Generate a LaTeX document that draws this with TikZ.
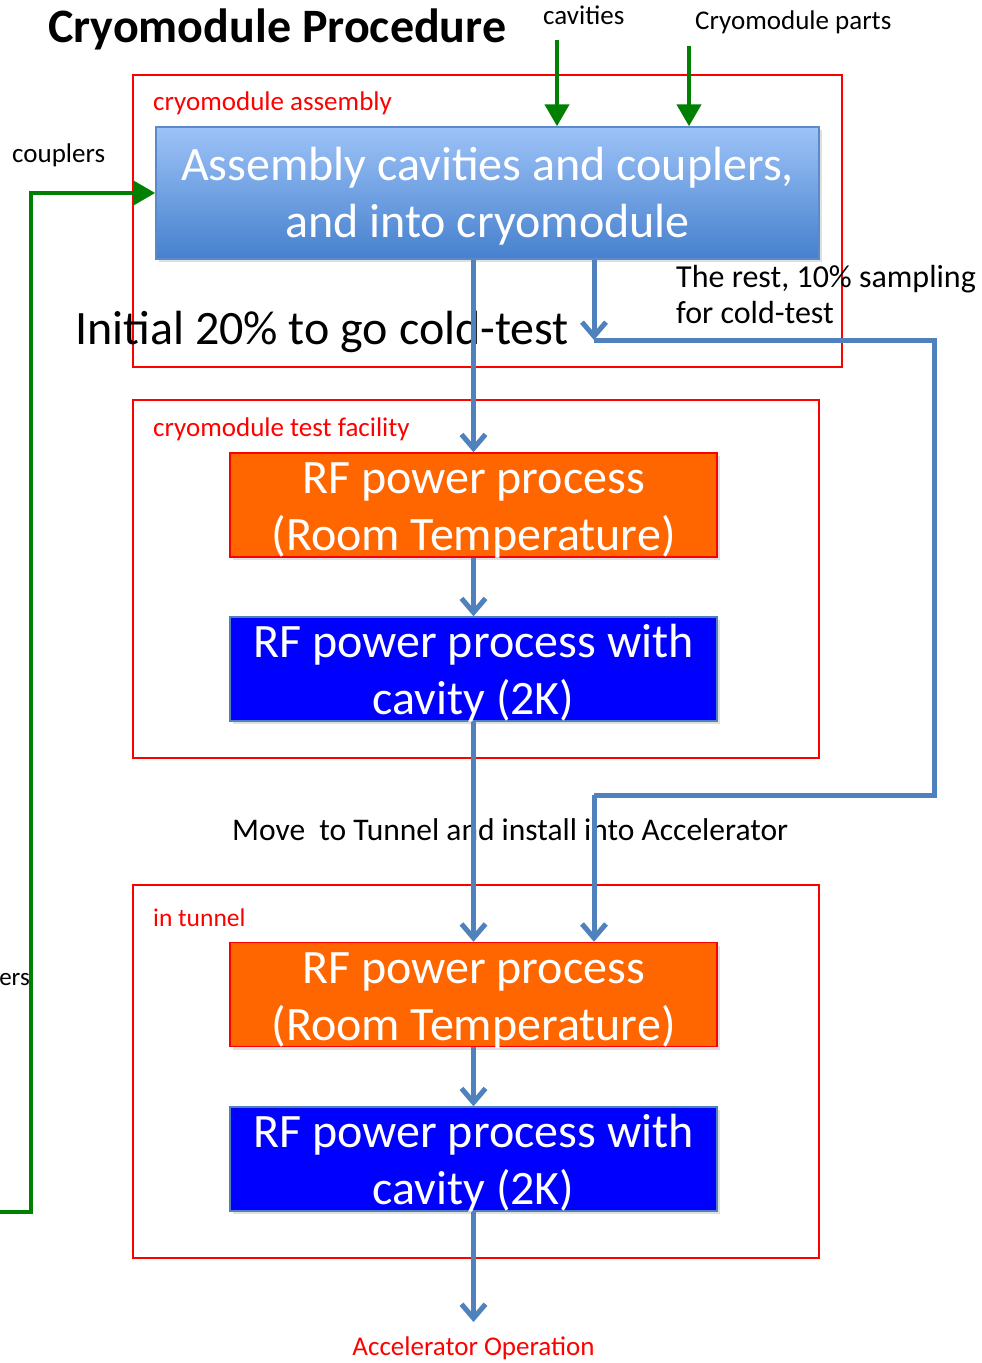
\documentclass[tikz,border=0pt]{standalone}
\usepackage{fontspec}
\setmainfont{Carlito}
\usetikzlibrary{arrows.meta,shadows}
\definecolor{conn}{HTML}{4F81BD}
\definecolor{grn}{HTML}{008000}
\definecolor{orng}{HTML}{FF6600}
\definecolor{bluebox}{HTML}{0000FF}
\definecolor{boxtop}{HTML}{9DC3F7}
\definecolor{boxbot}{HTML}{4680CE}
\definecolor{boxedge}{HTML}{5B8ACB}
\definecolor{redline}{HTML}{FF0000}
\tikzset{
  shd/.style={drop shadow={opacity=0.25,shadow xshift=3pt,shadow yshift=-3pt}},
  group/.style={draw=redline,line width=1.5pt,inner sep=0pt,fill=white},
  bigtext/.style={font=\fontsize{48}{57}\selectfont,text=white,align=center,inner sep=0pt},
  asmbox/.style={bigtext,shd,top color=boxtop,bottom color=boxbot,draw=boxedge,line width=1.5pt,minimum width=663pt,minimum height=132pt,text height=99pt,text depth=10pt},
  orbox/.style={bigtext,shd,fill=orng,draw=redline,line width=1.5pt,minimum width=487pt,minimum height=104pt,text height=97pt,text depth=6pt},
  blbox/.style={bigtext,shd,fill=bluebox,draw=conn,line width=1.5pt,minimum width=487pt,minimum height=104pt,text height=97pt,text depth=6pt},
  grouplabel/.style={font=\fontsize{27}{30}\selectfont,text=redline,inner sep=0pt,anchor=base west},
  smalltext/.style={font=\fontsize{27}{30}\selectfont,inner sep=0pt},
  midtext/.style={font=\fontsize{32}{38}\selectfont,inner sep=0pt},
  bconn/.style={draw=conn,line width=5pt,-{Straight Barb[length=14pt,width=24pt]}},
  bline/.style={draw=conn,line width=5pt},
  gconn/.style={draw=grn,line width=4.5pt,-{Triangle[length=22pt,width=24pt]}},
}
\begin{document}
\begin{tikzpicture}[x=1pt,y=-1pt]
\useasboundingbox[fill=white] (0,0) rectangle (982,1363);

% group frames
\node[group,minimum width=709pt,minimum height=292pt] (g1) at (487.5,221) {};
\node[group,minimum width=686pt,minimum height=358pt] (g2) at (476,579) {};
\node[group,minimum width=686pt,minimum height=373pt] (g3) at (476,1071.5) {};

% title and labels
\node[font=\fontsize{48}{52}\selectfont\bfseries,anchor=base west,inner sep=0pt] (title) at (48,42) {Cryomodule Procedure};
\node[smalltext,anchor=base west] (cav) at (543,24) {cavities};
\node[smalltext,anchor=base west] (parts) at (695,29) {Cryomodule parts};
\node[smalltext,anchor=base west] (coup) at (12,162) {couplers};
\node[font=\fontsize{25}{30}\selectfont,inner sep=0pt,anchor=base east] (coup2) at (30,985) {ers};
\node[grouplabel] (l1) at (153,110) {cryomodule assembly};
\node[grouplabel] (l2) at (153,436) {cryomodule test facility};
\node[grouplabel,font=\fontsize{25.5}{30}\selectfont] (l3) at (153,926) {in tunnel};

% process boxes
\node[asmbox] (asm) at (487.5,193) {Assembly cavities and couplers,\\and into cryomodule};
\node[orbox] (rf1) at (473.5,505) {RF power process\\(Room Temperature)};
\node[blbox] (cav1) at (473.5,669) {RF power process with\\cavity (2K)};
\node[orbox] (rf2) at (473.5,994.5) {RF power process\\(Room Temperature)};
\node[blbox] (cav2) at (473.5,1159) {RF power process with\\cavity (2K)};

% texts along the flow
\node[font=\fontsize{48}{52}\selectfont,inner sep=0pt,anchor=base west] (init) at (75,344) {Initial 20\% to go cold-test};
\node[midtext,anchor=base west,align=left] (rest) at (676,287) {The rest, 10\% sampling};
\node[midtext,anchor=base west,align=left] (rest2) at (676,323) {for cold-test};
\node[midtext,font=\fontsize{31.5}{38}\selectfont,anchor=base west] (move) at (232,840) {Move\ \ to Tunnel and install into Accelerator};
\node[smalltext,text=redline,anchor=base] (accop) at (473.5,1355) {Accelerator Operation};

% coordinates
\coordinate (split) at (594,340);
\coordinate (gstart) at (-10,1212);
\coordinate (out) at (473.5,1322);

% green inputs
\draw[gconn] (cav.south -| 557,0) ++(0,16) coordinate (cavtop) -- (asm.north -| cavtop);
\draw[gconn] (parts.south -| 689,0) ++(0,12) coordinate (partstop) -- (asm.north -| partstop);
\draw[gconn] (gstart) -| (31,193) -- (asm.west);

% blue flow
\draw[bconn] (asm.south -| rf1.north) -- (rf1.north);
\draw[bconn] (asm.south -| split) -- (split);
\draw[bline] (split) -- (934,340) -- (934,795) -- (594,795) coordinate (bend);
\draw[bconn] (bend) -- (rf2.north -| bend);
\draw[bconn] (rf1.south) -- (cav1.north);
\draw[bconn] (cav1.south) -- (rf2.north);
\draw[bconn] (rf2.south) -- (cav2.north);
\draw[bconn] (cav2.south) -- (out);
\end{tikzpicture}
\end{document}
